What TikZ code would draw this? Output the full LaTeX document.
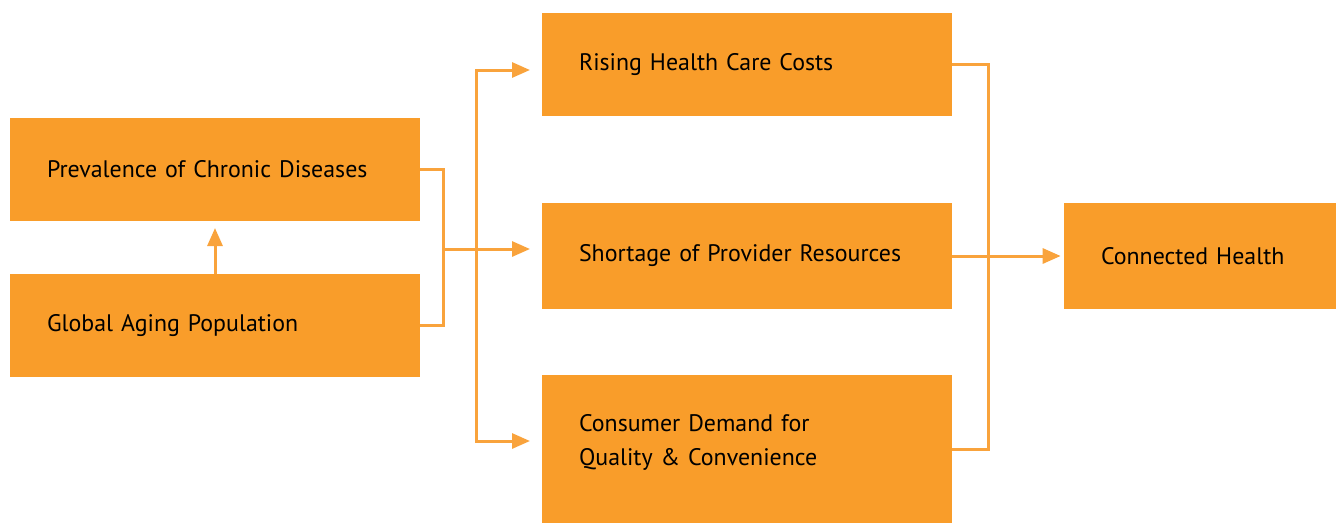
\documentclass[tikz,border=0pt]{standalone}
\usepackage{fontspec}
\setmainfont{PT Sans}
\usetikzlibrary{arrows.meta}
\definecolor{boxorange}{HTML}{F99D2A}
\definecolor{lineorange}{HTML}{F9A33C}
\begin{document}
\begin{tikzpicture}
          [x=0.02cm, y=-0.02cm,
          font=\fontsize{13.6}{19.4}\selectfont,
          box/.style={shape=rectangle,fill=boxorange,text=black,inner xsep=0.74cm,inner ysep=0pt,align=left,text width=6.72cm},
          endbox/.style={box,text width=3.96cm},
          arc/.style={-{Triangle[length=0.36cm,width=0.3cm]},line width=0.06cm,lineorange},
          edge/.style={line width=0.06cm,lineorange}]

            \useasboundingbox (0,0) rectangle (1337,524);

            \node (chronic) [box,minimum height=2.06cm] at (215,169.5) {Prevalence of Chronic Diseases};
            \node (aging) [box,minimum height=2.06cm] at (215,325.5) {Global Aging Population};
            \node (costs) [box,minimum height=2.06cm] at (747,64.5) {Rising Health Care Costs};
            \node (shortage) [box,minimum height=2.12cm] at (747,256) {Shortage of Provider Resources};
            \node (demand) [box,minimum height=2.96cm,text depth=1.05cm] at (747,449) {Consumer Demand for\\Quality \& Convenience};
            \node (connected) [endbox,minimum height=2.12cm] at (1200,256) {Connected Health};

            % free ends of the arrows, short of the boxes
            \coordinate (top) at (530,70);
            \coordinate (mid) at (530,249);
            \coordinate (bot) at (530,441);
            \coordinate (up) at (215,228);

          \draw [arc] (aging.north) to (up);
          \draw [edge] (chronic.east) -| (443,249) |- (aging.east);
          \draw [arc] (443,249) to (mid);
          \draw [arc] (476,249) |- (top);
          \draw [arc] (476,249) |- (bot);
          \draw [edge] (costs.east) -| (988,256) |- (demand.east);
          \draw [arc] (shortage.east) to ([xshift=-0.06cm]connected.west);

        \end{tikzpicture}
\end{document}
